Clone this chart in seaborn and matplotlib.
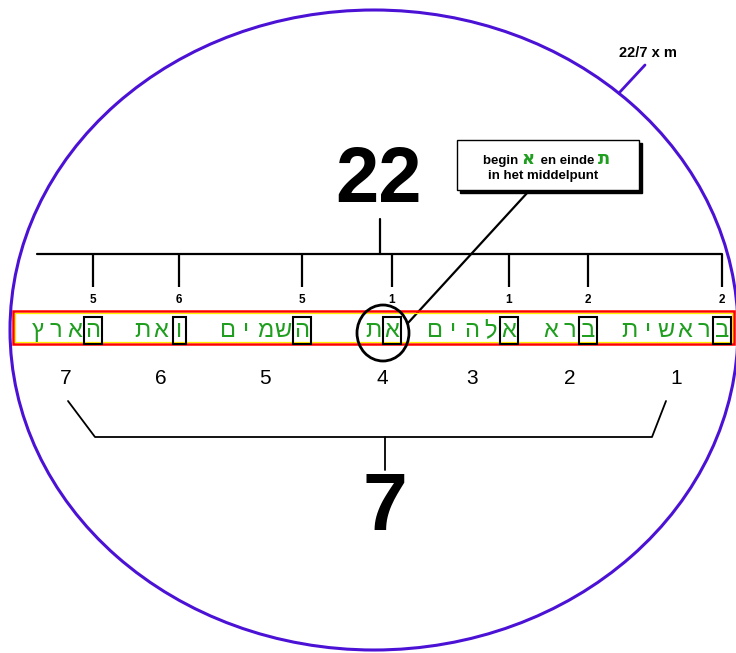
import matplotlib
matplotlib.use("Agg")
import matplotlib.pyplot as plt
from matplotlib.patches import Ellipse, Rectangle
import seaborn as sns

# ---- data ----
words = ["בראשית", "ברא", "אלהים", "את", "השמים", "ואת", "הארץ"]   # Genesis 1:1, right to left
word_numbers = [1, 2, 3, 4, 5, 6, 7]
first_letter_values = [2, 2, 1, 1, 5, 6, 5]      # value of each word's first letter
total_value = sum(first_letter_values)           # 22
word_count = len(words)                          # 7
circ_label = "22/7 x m"
callout_line1 = ["begin ", "א", " en einde ", "ת"]
callout_line2 = "in het middelpunt"

# ---- layout (pixels) ----
W, H = 736, 653
word_x = [722, 588, 509, 392, 302, 179, 93]      # x of each word's first letter
pitch = 18.5
row_y = 331
bar_y = 254
green = "#1f9e1f"
blue = "#4b12d6"

sns.set_style("white")
plt.rcParams["font.family"] = ["Liberation Sans", "DejaVu Sans"]
plt.rcParams["text.color"] = "black"

fig = plt.figure(figsize=(W / 100, H / 100), dpi=100)
ax = fig.add_axes([0, 0, 1, 1])
ax.set_xlim(0, W)
ax.set_ylim(H, 0)
ax.axis("off")

# outer ellipse
ax.add_patch(Ellipse((374, 330), 728, 640, fill=False, ec=blue, lw=2.2))
ax.plot([645, 619], [65, 93], color=blue, lw=2)
ax.text(648, 53, circ_label, ha="center", va="center", fontsize=10.5,
        fontweight="bold")

# top measure bar
ax.plot([37, 722], [bar_y, bar_y], color="black", lw=1.6)
ax.plot([380, 380], [219, bar_y], color="black", lw=1.6)
ax.text(379, 181, str(total_value), ha="center", va="center", fontsize=56,
        fontweight="bold")
ax.vlines(word_x, bar_y, 287, color="black", lw=1.6)
for x, v in zip(word_x, first_letter_values):
    ax.text(x, 300, str(v), ha="center", va="center", fontsize=8.5, fontweight="bold")

# red/yellow band
ax.add_patch(Rectangle((13, 311), 721, 33, fill=False, ec="red", lw=1.8, zorder=3))
ax.add_patch(Rectangle((15, 313), 717, 29, fill=False, ec="#ffee00", lw=0.9, zorder=3))

# words, letter by letter from right to left
centers = []
for w, x0 in zip(words, word_x):
    for i, ch in enumerate(w):
        ax.text(x0 - i * pitch, row_y, ch, ha="center", va="center",
                fontsize=17, color=green, zorder=4)
    bw = 13 if w[0] == "ו" else 18
    ax.add_patch(Rectangle((x0 - bw / 2, 317), bw, 27, fill=False, ec="black",
                           lw=1.5, zorder=5))
    centers.append(x0 - (len(w) - 1) * pitch / 2)

# circle round the middle word
ax.add_patch(Ellipse((383, 333), 52, 56, fill=False, ec="black", lw=2, zorder=6))

# word numbers
for c, n in zip(centers, word_numbers):
    ax.text(c, 378, str(n), ha="center", va="center", fontsize=15)

# bottom bracket
ax.plot([68, 95, 652, 666], [401, 437, 437, 401], color="black", lw=1.3)
ax.plot([385, 385], [437, 470], color="black", lw=1.3)
ax.text(385, 509, str(word_count), ha="center", va="center", fontsize=58,
        fontweight="bold")

# callout
ax.plot([528, 408], [192, 323], color="black", lw=1.6, zorder=2)
ax.add_patch(Rectangle((460, 143), 182, 50, fc="black", ec="black", lw=1, zorder=7))
ax.add_patch(Rectangle((457, 140), 182, 50, fc="white", ec="black", lw=1, zorder=8))
renderer = fig.canvas.get_renderer()
x = 483
inv = ax.transData.inverted()
for piece in callout_line1:
    heb = piece.strip() in ("א", "ת")
    t = ax.text(x, 164, piece, ha="left", va="baseline",
                fontsize=13 if heb else 9.5, fontweight="bold",
                family=["DejaVu Sans"] if heb else ["Liberation Sans", "DejaVu Sans"],
                color=green if heb else "black", zorder=9)
    bb = t.get_window_extent(renderer)
    x = inv.transform((bb.x1, bb.y0))[0] + (2 if heb else 0)
ax.text(543, 176, callout_line2, ha="center", va="center", fontsize=9.5,
        fontweight="bold", zorder=9)

fig.savefig("out.png", dpi=100)
